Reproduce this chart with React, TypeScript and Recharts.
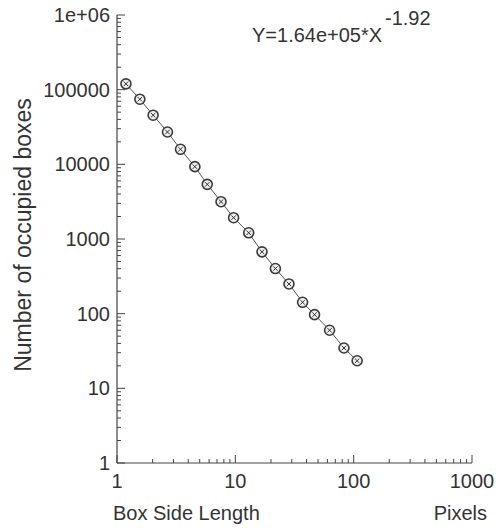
import { ScatterChart, Scatter, XAxis, YAxis } from 'recharts';

const boxSize = [1.19, 1.56, 2.02, 2.67, 3.44, 4.55, 5.79, 7.57, 9.67, 12.97, 16.8, 21.8, 28.4, 37.0, 46.7, 62.6, 82.8, 107];
const occupied = [119700, 74500, 45500, 27100, 15900, 9310, 5390, 3160, 1930, 1210, 673, 402, 250, 142, 97, 60, 34.7, 23.4];

const xTicks = [1, 2, 3, 4, 5, 6, 7, 8, 9, 10, 20, 30, 40, 50, 60, 70, 80, 90, 100, 200, 300, 400, 500, 600, 700, 800, 900, 1000];
const yTicks = [
  1, 2, 3, 4, 5, 6, 7, 8, 9,
  10, 20, 30, 40, 50, 60, 70, 80, 90,
  100, 200, 300, 400, 500, 600, 700, 800, 900,
  1000, 2000, 3000, 4000, 5000, 6000, 7000, 8000, 9000,
  10000, 20000, 30000, 40000, 50000, 60000, 70000, 80000, 90000,
  100000, 200000, 300000, 400000, 500000, 600000, 700000, 800000, 900000,
  1000000,
];
const yLabels: Record<number, string> = {
  1: '1', 10: '10', 100: '100', 1000: '1000', 10000: '10000', 100000: '100000', 1000000: '1e+06',
};
const xLabels: Record<number, string> = { 1: '1', 10: '10', 100: '100', 1000: '1000' };

const data = boxSize.map((x, i) => ({ x, y: occupied[i] }));

const FONT = '"Liberation Sans", Arial, Helvetica, sans-serif';
const INK = '#333';

const YTick = (props: any) => {
  const { x, y, payload } = props;
  const label = yLabels[payload.value];
  return (
    <g>
      <line x1={x} x2={x + (label ? 8 : 4)} y1={y} y2={y} stroke="#444" strokeWidth={1} />
      {label && (
        <text x={x - 7} y={y} dy={7} textAnchor="end" fontSize={20} fill={INK} fontFamily={FONT}>
          {label}
        </text>
      )}
    </g>
  );
};

const XTick = (props: any) => {
  const { x, y, payload } = props;
  const label = xLabels[payload.value];
  return (
    <g>
      <line x1={x} x2={x} y1={y} y2={y - (label ? 8 : 4)} stroke="#444" strokeWidth={1} />
      {label && (
        <text x={x} y={y + 25} textAnchor="middle" fontSize={20} fill={INK} fontFamily={FONT}>
          {label}
        </text>
      )}
    </g>
  );
};

const Marker = (props: any) => {
  const { cx, cy } = props;
  if (cx == null || cy == null) return null;
  return (
    <g>
      <circle cx={cx} cy={cy} r={5} fill="#eee" stroke="#3a3a3a" strokeWidth={1.6} />
      <line x1={cx - 2.2} y1={cy - 2.2} x2={cx + 2.2} y2={cy + 2.2} stroke="#333" strokeWidth={1} />
      <line x1={cx - 2.2} y1={cy + 2.2} x2={cx + 2.2} y2={cy - 2.2} stroke="#333" strokeWidth={1} />
    </g>
  );
};

export default function App() {
  return (
    <div style={{ position: 'absolute', left: 0, top: 0, width: 497, height: 529, background: '#fff' }}>
      <ScatterChart width={497} height={529} margin={{ top: 15, right: 25, bottom: 36, left: 17 }}>
        <XAxis
          type="number"
          dataKey="x"
          scale="log"
          domain={[1, 1000]}
          ticks={xTicks}
          interval={0}
          allowDataOverflow
          height={30}
          tickSize={0}
          tickMargin={0}
          tickLine={false}
          axisLine={{ stroke: '#444', strokeWidth: 1.2 }}
          tick={<XTick />}
        />
        <YAxis
          type="number"
          dataKey="y"
          scale="log"
          domain={[1, 1000000]}
          ticks={yTicks}
          interval={0}
          allowDataOverflow
          width={100}
          tickSize={0}
          tickMargin={0}
          tickLine={false}
          axisLine={{ stroke: '#444', strokeWidth: 1.2 }}
          tick={<YTick />}
        />
        <Scatter
          data={data}
          line={{ stroke: '#555', strokeWidth: 1 }}
          shape={<Marker />}
          isAnimationActive={false}
        />
      </ScatterChart>
      <svg width={497} height={529} style={{ position: 'absolute', left: 0, top: 0, pointerEvents: 'none' }}>
        <text x={252} y={42} fontSize={20} fill={INK} fontFamily={FONT}>Y=1.64e+05*X</text>
        <text x={385} y={25} fontSize={20} fill={INK} fontFamily={FONT}>-1.92</text>
        <text x={113} y={520} fontSize={20} fill={INK} fontFamily={FONT}>Box Side Length</text>
        <text x={487} y={520} textAnchor="end" fontSize={20} fill={INK} fontFamily={FONT}>Pixels</text>
        <text
          x={0}
          y={0}
          transform="translate(31,235) rotate(-90)"
          textAnchor="middle"
          fontSize={23}
          fill={INK}
          fontFamily={FONT}
        >
          Number of occupied boxes
        </text>
      </svg>
    </div>
  );
}
